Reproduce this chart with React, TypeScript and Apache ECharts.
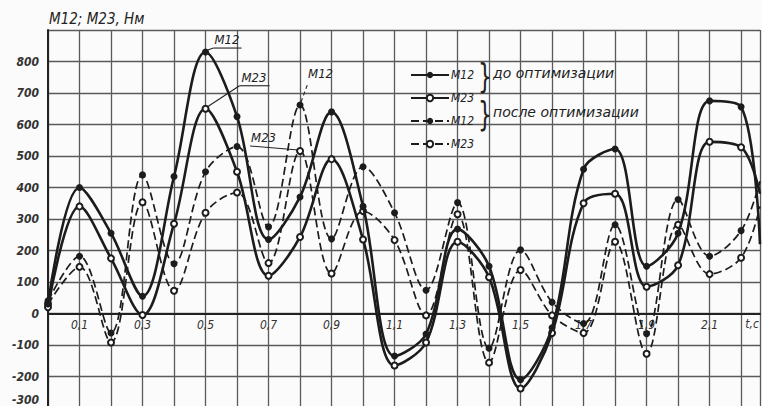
import React, { useEffect, useRef } from "react";
import * as echarts from "echarts";

// time, s
const T = [0, 0.1, 0.2, 0.3, 0.4, 0.5, 0.6, 0.7, 0.8, 0.9, 1.0, 1.1, 1.2, 1.3, 1.4, 1.5, 1.6, 1.7, 1.8, 1.9, 2.0, 2.1, 2.2, 2.26];

// before optimisation
const M12_BEFORE = [30, 400, 255, 55, 435, 830, 625, 235, 370, 640, 340, -135, -65, 268, 150, -210, -45, 458, 522, 150, 255, 675, 656, 220];
const M23_BEFORE = [20, 340, 175, -5, 285, 650, 450, 120, 243, 490, 235, -165, -92, 228, 115, -238, -62, 350, 380, 85, 153, 545, 528, 380];
// after optimisation
const M12_AFTER = [40, 182, -62, 440, 158, 450, 530, 275, 662, 237, 466, 320, 74, 352, -110, 202, 36, -32, 282, -64, 362, 182, 263, 420];
const M23_AFTER = [30, 148, -92, 353, 72, 320, 384, 160, 516, 127, 325, 233, -6, 315, -156, 138, -6, -62, 228, -128, 282, 125, 177, 340];

const Y_MIN = -300;
const Y_MAX = 900;
const Y_TICKS_HIDDEN = [900];
const X_LABELS_ODD = [1, 3, 5, 7, 9, 11, 13, 15, 17, 19, 21];

const FONT = "'DejaVu Sans Condensed', 'Liberation Sans Narrow', 'DejaVu Sans', sans-serif";
const INK = "#1c1c1c";

const GRID_TOP = 30;
const GRID_BOTTOM = -2;
const H = 406;

function build(vals: number[]) {
  return T.map((t, i) =>
    i === T.length - 1 ? { value: [t, vals[i]], symbol: "none" } : { value: [t, vals[i]] }
  );
}

export default function App() {
  const ref = useRef<HTMLDivElement>(null);
  useEffect(() => {
    document.body.style.margin = "0";
    const chart = echarts.init(ref.current!, null, { renderer: "svg" });
    const gridH = H - GRID_TOP - GRID_BOTTOM;
    const zeroOffset = -gridH * (0 - Y_MIN) / (Y_MAX - Y_MIN);
    const lineSeries = (name: string, vals: number[], dashed: boolean, open: boolean, z: number) => ({
      name,
      type: "line",
      data: build(vals),
      smooth: 0.35,
      z,
      symbol: open ? "emptyCircle" : "circle",
      symbolSize: open ? 6 : 7,
      lineStyle: {
        color: INK,
        width: dashed ? 1.7 : 2.6,
        type: dashed ? [8, 4] : "solid",
      },
      itemStyle: { color: INK, borderColor: INK, borderWidth: open ? 1.3 : 0 },
      emphasis: { disabled: true },
    });
    chart.setOption({
      animation: false,
      backgroundColor: "#fbfbfb",
      title: {
        text: "M12; M23, Нм",
        left: 44,
        top: 6,
        textStyle: { fontFamily: FONT, fontStyle: "italic", fontWeight: "normal", fontSize: 15, color: "#222" },
      },
      grid: { left: 48, right: 2, top: GRID_TOP, bottom: GRID_BOTTOM, outerBoundsMode: "none", containLabel: false },
      legend: {
        orient: "vertical",
        left: 405,
        top: 64,
        itemWidth: 38,
        itemHeight: 8,
        itemGap: 11,
        selectedMode: false,
        formatter: (n: string) => n.split(" ")[0],
        textStyle: { fontFamily: FONT, fontStyle: "italic", fontSize: 12, color: "#222", padding: [0, 0, 0, -3] },
        data: ["M12 до", "M23 до", "M12 после", "M23 после"],
      },
      xAxis: {
        type: "value",
        min: 0,
        max: 2.26,
        interval: 0.1,
        position: "bottom",
        offset: zeroOffset,
        axisLine: { onZero: false, lineStyle: { color: "#222", width: 2 } },
        axisTick: { show: false },
        splitLine: { show: true, lineStyle: { color: "#5a5a5a", width: 1.3 } },
        axisLabel: {
          margin: 5,
          fontFamily: FONT,
          fontStyle: "italic",
          fontSize: 12,
          color: "#333",
          showMinLabel: false,
          showMaxLabel: false,
          formatter: (v: number) => {
            const n = Math.round(v * 10);
            if (Math.abs(v * 10 - n) > 1e-6 || !X_LABELS_ODD.includes(n)) return "";
            return v.toFixed(1).replace(".", ",");
          },
        },
      },
      yAxis: {
        type: "value",
        min: Y_MIN,
        max: Y_MAX,
        interval: 100,
        axisLine: { show: true, onZero: false, lineStyle: { color: "#222", width: 2 } },
        axisTick: { show: false },
        splitLine: { show: true, lineStyle: { color: "#5a5a5a", width: 1.3 } },
        axisLabel: {
          margin: 9,
          fontFamily: FONT,
          fontStyle: "italic",
          fontWeight: "bold",
          fontSize: 12,
          color: "#333",
          formatter: (v: number) => {
            if (Y_TICKS_HIDDEN.includes(v)) return "";
            if (v === Y_MIN) return "{low|" + v + "}";
            return String(v);
          },
          rich: {
            low: { fontFamily: FONT, fontStyle: "italic", fontWeight: "bold", fontSize: 12, color: "#333", padding: [0, 0, 16, 0] },
          },
        },
      },
      series: [
        lineSeries("M23 после", M23_AFTER, true, true, 2),
        lineSeries("M12 после", M12_AFTER, true, false, 3),
        lineSeries("M23 до", M23_BEFORE, false, true, 4),
        lineSeries("M12 до", M12_BEFORE, false, false, 5),
      ],
    });

    const px = (t: number, v: number) => chart.convertToPixel({ gridIndex: 0 }, [t, v]) as number[];
    const textStyle = { fontFamily: FONT, fontStyle: "italic", fontSize: 13, fill: "#222" };
    const thin = { stroke: "#222", lineWidth: 1.1 };
    const a1 = px(0.5, 830);
    const a2 = px(0.5, 650);
    const a3 = px(0.8, 662);
    const a4 = px(0.8, 516);
    const tc = px(2.235, 0);
    const legendText = { fontFamily: "'DejaVu Sans', sans-serif", fontStyle: "italic", fontSize: 14, fill: "#222" };
    const brace = { fontFamily: "'DejaVu Sans', sans-serif", fontSize: 22, fill: "#222", text: "}" };
    chart.setOption({
      graphic: [
        // solid M12 label
        { type: "line", shape: { x1: a1[0] + 2, y1: a1[1] - 2, x2: a1[0] + 8, y2: a1[1] - 4 }, style: thin },
        { type: "line", shape: { x1: a1[0] + 8, y1: a1[1] - 4, x2: a1[0] + 36, y2: a1[1] - 4 }, style: thin },
        { type: "text", x: a1[0] + 9, y: a1[1] - 19, style: { ...textStyle, text: "M12" } },
        // solid M23 label
        { type: "line", shape: { x1: a2[0] + 2, y1: a2[1] - 2, x2: a2[0] + 34, y2: a2[1] - 23 }, style: thin },
        { type: "line", shape: { x1: a2[0] + 34, y1: a2[1] - 23, x2: a2[0] + 64, y2: a2[1] - 23 }, style: thin },
        { type: "text", x: a2[0] + 36, y: a2[1] - 38, style: { ...textStyle, text: "M23" } },
        // dashed M12 label
        { type: "line", shape: { x1: a3[0] + 1, y1: a3[1] - 3, x2: a3[0] + 8, y2: a3[1] - 22 }, style: { ...thin, lineDash: [4, 3] } },
        { type: "text", x: a3[0] + 8, y: a3[1] - 38, style: { ...textStyle, text: "M12" } },
        // dashed M23 label
        { type: "line", shape: { x1: a4[0] - 2, y1: a4[1] - 1, x2: a4[0] - 50, y2: a4[1] - 5 }, style: thin },
        { type: "text", x: a4[0] - 49, y: a4[1] - 20, style: { ...textStyle, text: "M23" } },
        // axis unit
        { type: "text", x: tc[0], y: tc[1] + 4, style: { fontFamily: FONT, fontStyle: "italic", fontSize: 12, fill: "#333", text: "t,c", align: "center" } },
        // legend braces and group texts
        { type: "text", x: 478, y: 60, scaleY: 1.5, style: brace },
        { type: "text", x: 478, y: 98, scaleY: 1.5, style: brace },
        { type: "text", x: 493, y: 66, style: { ...legendText, text: "до оптимизации" } },
        { type: "text", x: 493, y: 105, style: { ...legendText, text: "после оптимизации" } },
      ],
    });
    return () => chart.dispose();
  }, []);
  return <div ref={ref} style={{ width: 762, height: 406 }} />;
}
